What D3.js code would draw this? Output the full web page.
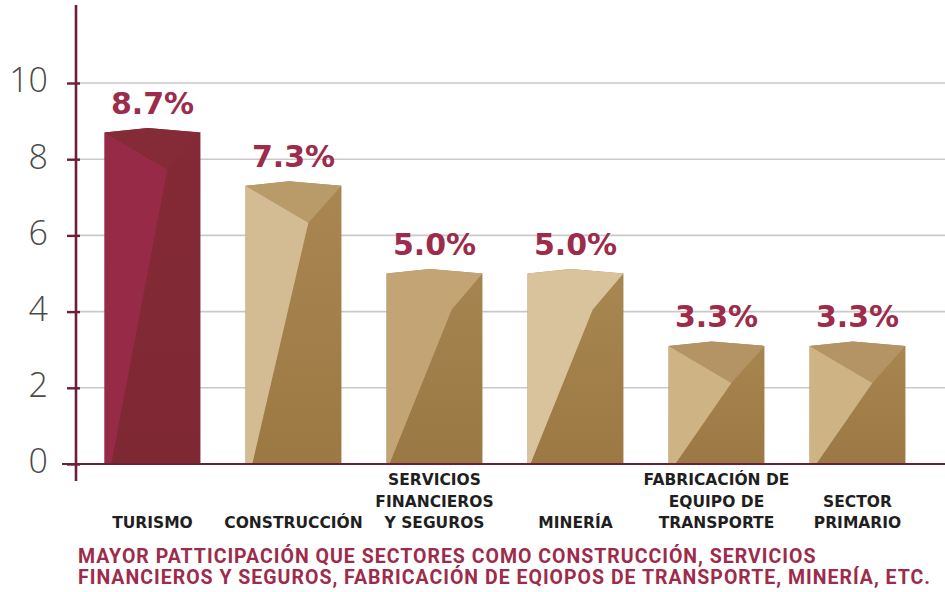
<!DOCTYPE html>
<html>
<head>
<meta charset="utf-8">
<script src="https://cdn.jsdelivr.net/npm/d3@7"></script>
<style>
  html, body { margin: 0; padding: 0; background: #ffffff; }
  svg { display: block; }
</style>
</head>
<body>
<svg id="chart" width="945" height="592"></svg>
<script>
// ---- data ----
const categories = ["TURISMO", "CONSTRUCCIÓN", "SERVICIOS FINANCIEROS Y SEGUROS", "MINERÍA", "FABRICACIÓN DE EQUIPO DE TRANSPORTE", "SECTOR PRIMARIO"];
const categoryLines = [["TURISMO"], ["CONSTRUCCIÓN"], ["SERVICIOS", "FINANCIEROS", "Y SEGUROS"], ["MINERÍA"], ["FABRICACIÓN DE", "EQUIPO DE", "TRANSPORTE"], ["SECTOR", "PRIMARIO"]];
const values = [8.7, 7.3, 5.0, 5.0, 3.1, 3.1];
const valueLabels = ["8.7%", "7.3%", "5.0%", "5.0%", "3.3%", "3.3%"];
const yTicks = [0, 2, 4, 6, 8, 10];
const footnoteLines = [
  "MAYOR PATTICIPACIÓN QUE SECTORES COMO CONSTRUCCIÓN, SERVICIOS",
  "FINANCIEROS Y SEGUROS, FABRICACIÓN DE EQIOPOS DE TRANSPORTE, MINERÍA, ETC."
];

// ---- styles ----
const maroon = "#6e1f38";
const labelRed = "#9d2b4b";
const barStyles = [
  { shape: "A", light: "#972a46", top: "#852a37", dark: "#842a36", darkB: "#7e2833" },
  { shape: "A", light: "#d3bc93", top: "#b99a69", dark: "#aa8752", darkB: "#9c7943" },
  { shape: "B", light: "#c3a575", top: "#c3a575", dark: "#a68550", darkB: "#9a7844" },
  { shape: "B", light: "#d8c39d", top: "#d8c39d", dark: "#a98751", darkB: "#9c7943" },
  { shape: "A", light: "#ceb485", top: "#b49464", dark: "#a98650", darkB: "#9c7944" },
  { shape: "A", light: "#ceb485", top: "#b49464", dark: "#a98650", darkB: "#9c7944" }
];

const svg = d3.select("#chart");
const defs = svg.append("defs");

const x = d3.scaleBand().domain(categories).range([82, 928]).paddingInner(0.32).paddingOuter(0.16);
const y = d3.scaleLinear().domain([0, 10]).range([464, 83]);

// gridlines
svg.append("g").selectAll("line").data(yTicks.filter(t => t > 0)).join("line")
  .attr("x1", 76).attr("x2", 945)
  .attr("y1", d => y(d)).attr("y2", d => y(d))
  .attr("stroke", "#c9c9c9").attr("stroke-width", 1.6);

// gradients for dark faces
barStyles.forEach((s, i) => {
  const g = defs.append("linearGradient").attr("id", "gd" + i)
    .attr("x1", 0).attr("y1", 0).attr("x2", 0).attr("y2", 1);
  g.append("stop").attr("offset", "0%").attr("stop-color", s.dark);
  g.append("stop").attr("offset", "100%").attr("stop-color", s.darkB);
});

// bars
const bars = svg.append("g");
categories.forEach((c, i) => {
  const s = barStyles[i];
  const x0 = x(c), w = x.bandwidth(), x1 = x0 + w;
  const yt = y(values[i]), yb = y(0);
  const peak = [x0 + w * 0.45, yt - 4.5];
  const TL = [x0, yt], TR = [x1, yt], BL = [x0, yb], BR = [x1, yb];
  const g = bars.append("g");
  g.append("path").attr("d", d3.line()([TL, peak, TR, BR, BL]) + "Z").attr("fill", "url(#gd" + i + ")");
  if (s.shape === "A") {
    const M = [x0 + w * 0.655, yt + 37];
    const B = [x0 + w * 0.07, yb];
    g.append("path").attr("d", d3.line()([TL, peak, TR, M]) + "Z").attr("fill", s.top);
    g.append("path").attr("d", d3.line()([TL, M, B, BL]) + "Z").attr("fill", s.light);
  } else {
    const M = [x0 + w * 0.68, yt + 36];
    const B = [x0 + w * 0.03, yb];
    g.append("path").attr("d", d3.line()([TL, peak, TR, M, B, BL]) + "Z").attr("fill", s.light);
  }
});

// value labels
svg.append("g").selectAll("text").data(categories).join("text")
  .attr("x", d => x(d) + x.bandwidth() / 2)
  .attr("y", (d, i) => y(values[i]) - 19)
  .attr("text-anchor", "middle")
  .attr("font-family", "DejaVu Sans, sans-serif")
  .attr("font-weight", "bold")
  .attr("font-size", 30)
  .attr("fill", labelRed)
  .text((d, i) => valueLabels[i]);

// y axis line & baseline
svg.append("line").attr("x1", 76).attr("x2", 76).attr("y1", 5).attr("y2", 481)
  .attr("stroke", maroon).attr("stroke-width", 2.6);
svg.append("line").attr("x1", 62).attr("x2", 945).attr("y1", y(0)).attr("y2", y(0))
  .attr("stroke", maroon).attr("stroke-width", 2.2);

// y ticks
const yAxis = d3.axisLeft(y).tickValues(yTicks).tickSize(0).tickPadding(28).tickFormat(d3.format("d"));
const ga = svg.append("g").attr("transform", "translate(76,0)").call(yAxis);
ga.select(".domain").remove();
ga.selectAll(".tick line").remove();
ga.selectAll(".tick").append("line").attr("x1", -9).attr("x2", 4).attr("stroke", maroon).attr("stroke-width", 2.4);
ga.selectAll(".tick text")
  .attr("font-family", "Open Sans, sans-serif")
  .attr("font-weight", 300)
  .attr("font-size", 34)
  .attr("fill", "#4a4a4a")
  .attr("dy", "0.32em")
  .attr("y", -2);

// category labels (bottom aligned)
const lineH = 21.5, lastBase = 528;
const cl = svg.append("g").selectAll("text").data(categories).join("text")
  .attr("text-anchor", "middle")
  .attr("font-family", "DejaVu Sans, sans-serif")
  .attr("font-weight", "bold")
  .attr("font-size", 15.5)
  .attr("fill", "#1f1f1f");
cl.each(function(d, i) {
  const lines = categoryLines[i];
  const t = d3.select(this);
  lines.forEach((ln, k) => {
    t.append("tspan")
      .attr("x", x(d) + x.bandwidth() / 2)
      .attr("y", lastBase - (lines.length - 1 - k) * lineH)
      .text(ln);
  });
});

// footnote: one text block, two lines; letter-spacing tuned so the long line spans the width
const foot = svg.append("text")
  .attr("font-family", "Roboto, Liberation Sans, sans-serif")
  .attr("font-weight", "bold")
  .attr("font-size", 19.5)
  .attr("fill", labelRed);
const spans = footnoteLines.map((ln, k) => foot.append("tspan")
  .attr("x", 78).attr("y", 563 + k * 21).text(ln));
const natural = spans[1].node().getComputedTextLength();
const ls = Math.max(0, (852 - natural) / (footnoteLines[1].length - 1));
foot.attr("letter-spacing", ls);
</script>
</body>
</html>
